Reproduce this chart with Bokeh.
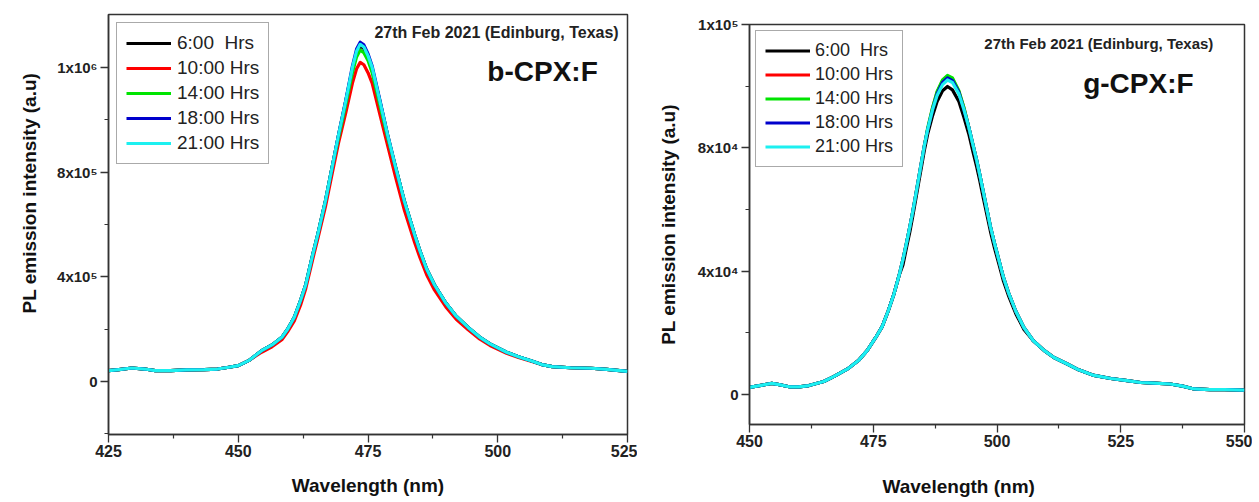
from bokeh.plotting import figure
from bokeh.layouts import row
from bokeh.models import Range1d, FixedTicker, Label, Title
from bokeh.embed import file_html
from bokeh.resources import INLINE

FONT = "Liberation Sans"

# ---------------- data: b-CPX:F ----------------
b_wavelength = [425, 427, 429.5, 432, 434, 437, 440, 443.5, 446, 448.2, 450, 452, 454.5, 456.5, 458.4,
                459.5, 460.8, 462, 463, 464.4, 465.3, 466.8, 468.1, 469.3, 470.7, 472, 472.8, 473.5,
                474.2, 475, 475.8, 477.3, 478.8, 480.3, 482, 484, 485, 486.3, 487.8, 490, 492, 494.3,
                496.5, 498.5, 501.7, 504, 506.4, 508.5, 510.5, 514, 518, 521, 525]
b_0600 = [42000, 46000, 52000, 48000, 42000, 42000, 45000, 46000, 48000, 55000, 61000, 80000, 118000, 140000, 169000,
          200000, 246000, 310000, 370000, 489000, 560000, 690000, 820000, 940000, 1070000, 1195000, 1255000, 1282000,
          1272000, 1240000, 1195000, 1070000, 940000, 820000, 690000, 560000, 500000, 430000, 370000, 300000, 250000, 207000,
          170000, 144000, 112000, 95000, 80000, 65000, 57000, 53000, 51000, 47000, 39000]
b_1000 = [42000, 46000, 52000, 48000, 42000, 42000, 45000, 46000, 48000, 55000, 61000, 80000, 112000, 133000, 160000,
          190000, 232000, 292000, 355000, 472000, 543000, 668000, 795000, 910000, 1025000, 1140000, 1195000, 1219000,
          1210000, 1180000, 1140000, 1020000, 900000, 782000, 655000, 530000, 474000, 408000, 350000, 285000, 238000, 198000,
          163000, 138000, 108000, 92000, 78000, 65000, 57000, 53000, 51000, 47000, 39000]
b_1400 = [42000, 46000, 52000, 48000, 42000, 42000, 45000, 46000, 48000, 55000, 61000, 80000, 118000, 140000, 169000,
          200000, 246000, 310000, 370000, 489000, 560000, 690000, 820000, 930000, 1056000, 1180000, 1240000, 1266000,
          1256000, 1226000, 1180000, 1055000, 930000, 820000, 690000, 560000, 500000, 430000, 370000, 300000, 250000, 207000,
          170000, 144000, 112000, 95000, 80000, 65000, 57000, 53000, 51000, 47000, 39000]
b_1800 = [42000, 46000, 52000, 48000, 42000, 42000, 45000, 46000, 48000, 55000, 61000, 80000, 118000, 140000, 169000,
          200000, 246000, 310000, 370000, 489000, 560000, 690000, 820000, 940000, 1072000, 1205000, 1270000, 1296000,
          1286000, 1252000, 1205000, 1074000, 940000, 820000, 690000, 560000, 500000, 430000, 370000, 300000, 250000, 207000,
          170000, 144000, 112000, 95000, 80000, 65000, 57000, 53000, 51000, 47000, 39000]
b_2100 = [42000, 46000, 52000, 48000, 42000, 42000, 45000, 46000, 48000, 55000, 61000, 80000, 118000, 140000, 169000,
          200000, 246000, 310000, 370000, 489000, 560000, 690000, 820000, 940000, 1070000, 1200000, 1262000, 1288000,
          1278000, 1245000, 1200000, 1070000, 940000, 820000, 690000, 560000, 500000, 430000, 370000, 300000, 250000, 207000,
          170000, 144000, 112000, 95000, 80000, 65000, 57000, 53000, 51000, 47000, 39000]

# ---------------- data: g-CPX:F ----------------
g_wavelength = [450, 452, 454.5, 456, 458, 460, 462, 465, 467, 470, 472, 473.8, 475.5, 476.8, 478, 479.2, 480.2,
                481, 481.7, 482.4, 483, 483.5, 484.1, 484.7, 485.3, 486, 487, 487.9, 489, 490, 491, 492.3, 493.3,
                494.3, 495.1, 495.9, 496.5, 497.2, 498, 498.7, 499.5, 500.4, 501.3, 502.4, 503.8, 505.4, 507.3,
                509.5, 511.5, 514.2, 516.5, 519.6, 523, 526.3, 529, 531.7, 535, 537.5, 539.8, 543, 546, 550]
g_0600 = [2300, 2900, 3600, 3200, 2500, 2500, 2900, 4200, 5800, 8500, 11000, 14300, 18500, 22000, 27000, 32700, 38500,
          42000, 47500, 52800, 58000, 62500, 68000, 73500, 79000, 84500, 90500, 95000, 98500, 99900, 98800, 95000, 90000,
          84500, 79000, 73800, 69500, 64000, 58000, 52700, 47500, 42200, 36800, 31700, 26200, 21200, 17500,
          14300, 12000, 9900, 8000, 6200, 5200, 4500, 3900, 3700, 3400, 2700, 1800, 1600, 1600, 1400]
g_1000 = [2300, 2900, 3600, 3200, 2500, 2500, 2900, 4200, 5800, 8500, 11000, 14300, 18500, 22000, 27000, 32700, 38500,
          43800, 49000, 54500, 59500, 64000, 69500, 75000, 80500, 86000, 93000, 98000, 101800, 103200, 102400, 98200, 93000,
          86700, 81300, 75900, 71500, 66000, 59700, 54300, 49000, 43500, 38000, 32700, 27000, 21800, 17500,
          14300, 12000, 9900, 8000, 6200, 5200, 4500, 3900, 3700, 3400, 2700, 1800, 1600, 1600, 1400]
g_1400 = [2300, 2900, 3600, 3200, 2500, 2500, 2900, 4200, 5800, 8500, 11000, 14300, 18500, 22000, 27000, 32700, 38500,
          43800, 49000, 54500, 59500, 64000, 69500, 75000, 80500, 86500, 93200, 98300, 102000, 103500, 102700, 98500, 93200,
          86700, 81300, 75900, 71500, 66000, 59700, 54300, 49000, 43500, 38000, 32700, 27000, 21800, 17500,
          14300, 12000, 9900, 8000, 6200, 5200, 4500, 3900, 3700, 3400, 2700, 1800, 1600, 1600, 1400]
g_1800 = [2300, 2900, 3600, 3200, 2500, 2500, 2900, 4200, 5800, 8500, 11000, 14300, 18500, 22000, 27000, 32700, 38500,
          43800, 49000, 54500, 59500, 64000, 69500, 75000, 80500, 86000, 92500, 97500, 101200, 102700, 101800, 98000, 92500,
          86700, 81300, 75900, 71500, 66000, 59700, 54300, 49000, 43500, 38000, 32700, 27000, 21800, 17500,
          14300, 12000, 9900, 8000, 6200, 5200, 4500, 3900, 3700, 3400, 2700, 1800, 1600, 1600, 1400]
g_2100 = [2300, 2900, 3600, 3200, 2500, 2500, 2900, 4200, 5800, 8500, 11000, 14300, 18500, 22000, 27000, 32700, 38500,
          43800, 49000, 54500, 59500, 64000, 69500, 75000, 80500, 86000, 92500, 97000, 100500, 102000, 101200, 97500, 92500,
          86700, 81300, 75900, 71500, 66000, 59700, 54300, 49000, 43500, 38000, 32700, 27000, 21800, 17500,
          14300, 12000, 9900, 8000, 6200, 5200, 4500, 3900, 3700, 3400, 2700, 1800, 1600, 1600, 1400]

series_labels = ["6:00  Hrs", "10:00 Hrs", "14:00 Hrs", "18:00 Hrs", "21:00 Hrs"]
series_colors = ["#000000", "#ff0000", "#00e400", "#0000cc", "#1cf0f0"]

b_x_ticks = [425, 450, 475, 500, 525]
b_x_minor = [437.5, 462.5, 487.5, 512.5]
b_y_ticks = [0, 400000, 800000, 1200000]
b_y_minor = [-200000, 200000, 600000, 1000000]
b_y_labels = ["0", "4x10\u2075", "8x10\u2075", "1x10\u2076"]

g_x_ticks = [450, 475, 500, 525, 550]
g_x_minor = [462.5, 487.5, 512.5, 537.5]
g_y_ticks = [0, 40000, 80000, 120000]
g_y_minor = [20000, 60000, 100000]
g_y_labels = ["0", "4x10\u2074", "8x10\u2074", "1x10\u2075"]

date_text = "27th Feb 2021 (Edinburg, Texas)"
x_title = "Wavelength (nm)"
y_title = "PL emission intensity (a.u)"


def txt(p, x, y, text, size, align="center", color="#111111"):
    p.add_layout(Label(x=x, y=y, text=text, text_font=FONT, text_font_style="bold",
                       text_font_size=size, text_align=align, text_baseline="middle", text_color=color))


def side_title(p, text, side, offset, standoff, valign):
    p.add_layout(Title(text=text, align="left", offset=offset, standoff=standoff, vertical_align=valign,
                       text_font=FONT, text_font_style="bold", text_font_size="19px", text_color="#111111"), side)


def make_panel(xs, series, x_rng, y_rng, xt, xm, yt, ym, ylabels, w, h, mb, sample, date_pos, date_size,
               sample_pos, legend_margin, leg_label_h, leg_spacing, leg_pad, leg_font, leg_standoff):
    p = figure(width=w, height=h, output_backend="svg", toolbar_location=None,
               x_range=Range1d(*x_rng), y_range=Range1d(*y_rng),
               min_border_left=mb[0], min_border_right=mb[1], min_border_top=mb[2], min_border_bottom=mb[3])
    if "frame_align" in p.properties():
        p.frame_align = False
    p.grid.visible = False
    p.background_fill_color = "white"
    p.border_fill_color = "white"
    p.outline_line_color = "#333333"
    p.outline_line_width = 1.5
    p.outline_line_alpha = 1

    for vals, lab, col in zip(series, series_labels, series_colors):
        p.line(xs, vals, line_color=col, line_width=3.2, line_join="round", legend_label=lab)

    p.xaxis.ticker = FixedTicker(ticks=xt, minor_ticks=xm)
    p.yaxis.ticker = FixedTicker(ticks=yt, minor_ticks=ym)
    p.yaxis.major_label_overrides = {t: s for t, s in zip(yt, ylabels)}
    for ax in (p.xaxis[0], p.yaxis[0]):
        ax.axis_line_color = "#333333"
        ax.axis_line_width = 1.5
        ax.major_tick_line_color = "#333333"
        ax.minor_tick_line_color = "#333333"
        ax.major_tick_line_width = 1.3
        ax.minor_tick_line_width = 1.2
        ax.major_tick_in = 0
        ax.major_tick_out = 8
        ax.minor_tick_in = 0
        ax.minor_tick_out = 4
        ax.major_label_text_font = FONT
        ax.major_label_text_font_style = "bold"
        ax.major_label_text_color = "#222222"
        ax.axis_label_text_font = FONT
        ax.axis_label_text_font_style = "bold"
        ax.axis_label_text_font_size = "19px"
        ax.axis_label_text_color = "#111111"
    p.xaxis.major_label_text_font_size = "16px"
    p.yaxis.major_label_text_font_size = "15px"
    p.xaxis.major_label_standoff = 2
    p.yaxis.major_label_standoff = 3

    txt(p, date_pos[0], date_pos[1], date_text, date_size, align="right", color="#222222")
    txt(p, sample_pos[0], sample_pos[1], sample, "28px", align="left")

    lg = p.legend[0]
    lg.location = "top_left"
    lg.margin = legend_margin
    lg.padding = leg_pad
    lg.spacing = leg_spacing
    lg.label_height = leg_label_h
    lg.glyph_height = leg_label_h
    lg.glyph_width = 45
    lg.label_standoff = leg_standoff
    lg.label_text_font = FONT
    lg.label_text_font_size = leg_font
    lg.label_text_color = "#222222"
    lg.border_line_color = "#555555"
    lg.border_line_width = 1.2
    lg.background_fill_color = "white"
    lg.background_fill_alpha = 1
    return p


p1 = make_panel(b_wavelength, [b_0600, b_1000, b_1400, b_1800, b_2100], (425, 525), (-202000, 1402000),
                b_x_ticks, b_x_minor, b_y_ticks, b_y_minor, b_y_labels,
                w=637, h=501, mb=(108, 10, 14, 67), sample="b-CPX:F",
                date_pos=(523.3, 1333000), date_size="16px", sample_pos=(498.0, 1184000),
                legend_margin=8, leg_label_h=22, leg_spacing=3, leg_pad=9, leg_font="19px", leg_standoff=6)
p1.xaxis.axis_label = x_title
p1.xaxis.axis_label_standoff = 15
side_title(p1, y_title, "left", offset=121, standoff=30, valign="bottom")

p2 = make_panel(g_wavelength, [g_0600, g_1000, g_1400, g_1800, g_2100], (450, 550), (-9730, 120000),
                g_x_ticks, g_x_minor, g_y_ticks, g_y_minor, g_y_labels,
                w=615, h=501, mb=(112, 8, 24, 77), sample="g-CPX:F",
                date_pos=(543.7, 113900), date_size="15px", sample_pos=(517.4, 100900),
                legend_margin=6, leg_label_h=21, leg_spacing=3, leg_pad=9, leg_font="18px", leg_standoff=5)
p2.yaxis.axis_label = y_title
p2.yaxis.axis_label_standoff = 16
# thin spacer between the tick labels and the x title
p2.xaxis.axis_label = " "
p2.xaxis.axis_label_text_font_size = "1px"
p2.xaxis.axis_label_standoff = 21
side_title(p2, x_title, "below", offset=133, standoff=2, valign="top")

layout = row(p1, p2)
open("out.html", "w").write(file_html(layout, INLINE))
